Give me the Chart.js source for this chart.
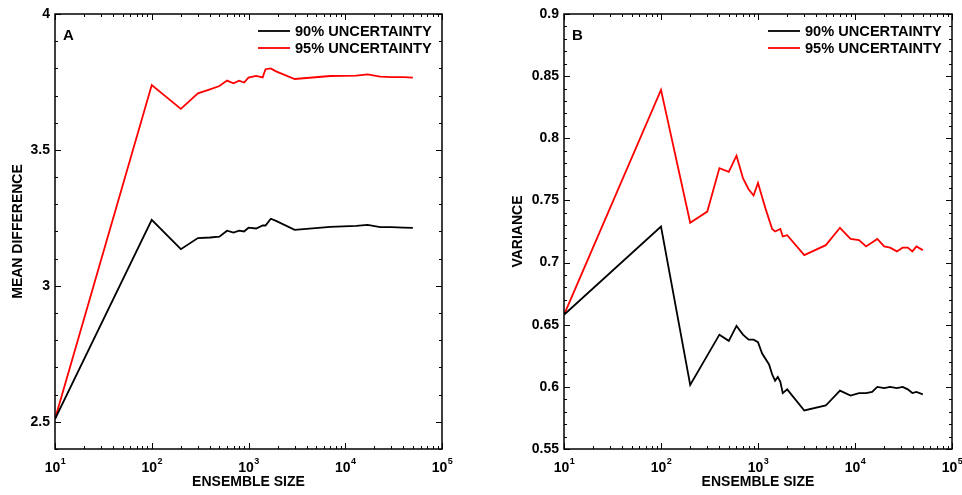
<!DOCTYPE html>
<html>
<head>
<meta charset="utf-8">
<script src="https://cdn.jsdelivr.net/npm/chart.js@4.4.1/dist/chart.umd.min.js"></script>
<style>
html, body { margin: 0; padding: 0; background: #fff; }
.panel { position: absolute; top: 0; width: 481px; height: 495px; }
</style>
</head>
<body>
<div class="panel" style="left:0"><canvas id="chartA"></canvas></div>
<div class="panel" style="left:481px"><canvas id="chartB"></canvas></div>
<script>
// panel A - mean difference
const sizesA = [10, 100, 200, 300, 400, 500, 600, 700, 800, 900,
  1000, 1200, 1400, 1500, 1700, 1900, 3000, 7000,
  13000, 17000, 23000, 30000, 40000, 50000];
const meanDiff90 = [2.51, 3.243, 3.135, 3.176, 3.178, 3.181, 3.203, 3.196, 3.203, 3.200,
  3.214, 3.211, 3.222, 3.222, 3.247, 3.240, 3.206, 3.217,
  3.221, 3.224, 3.216, 3.216, 3.214, 3.213];
const meanDiff95 = [2.51, 3.739, 3.651, 3.708, 3.723, 3.735, 3.755, 3.745, 3.755, 3.748,
  3.766, 3.772, 3.767, 3.797, 3.800, 3.790, 3.761, 3.772,
  3.773, 3.778, 3.770, 3.768, 3.768, 3.766];

// panel B - variance
const sizesB90 = [10, 100, 200, 400, 500, 600, 700, 800, 900, 1000,
  1100, 1300, 1400, 1500, 1600, 1700, 1800, 2000,
  3000, 5000, 7000, 9000, 11000, 13000, 15000, 17000,
  20000, 23000, 27000, 31000, 35000, 39000, 43000, 50000];
const variance90 = [0.658, 0.729, 0.6015, 0.642, 0.637, 0.649, 0.642, 0.638, 0.638, 0.636,
  0.627, 0.618, 0.610, 0.605, 0.608, 0.604, 0.595, 0.598,
  0.581, 0.585, 0.597, 0.593, 0.595, 0.595, 0.596, 0.600,
  0.599, 0.600, 0.599, 0.600, 0.598, 0.595, 0.596, 0.594];
const sizesB95 = [10, 100, 200, 300, 400, 500, 600, 700, 800, 900,
  1000, 1100, 1200, 1400, 1500, 1700, 1800, 2000,
  3000, 5000, 7000, 9000, 11000, 13000, 17000, 20000,
  23000, 27000, 31000, 35000, 39000, 43000, 50000];
const variance95 = [0.658, 0.839, 0.732, 0.741, 0.776, 0.773, 0.786, 0.768, 0.759, 0.754,
  0.764, 0.753, 0.743, 0.727, 0.725, 0.727, 0.721, 0.722,
  0.706, 0.714, 0.728, 0.719, 0.718, 0.713, 0.719, 0.713,
  0.712, 0.709, 0.712, 0.712, 0.709, 0.713, 0.710];

const seriesLabels = ['90% UNCERTAINTY', '95% UNCERTAINTY'];
const xDecades = [10, 100, 1000, 10000, 100000];
const yTicksA = [2.5, 3, 3.5, 4];
const yTicksB = [0.55, 0.6, 0.65, 0.7, 0.75, 0.8, 0.85, 0.9];

const FONT = "'Liberation Sans', Arial, Helvetica, sans-serif";
Chart.defaults.font.family = FONT;
Chart.defaults.color = '#000';

function pairs(xs, ys) {
  return xs.map((x, i) => ({ x: x, y: ys[i] }));
}

// box, inward ticks, superscript x labels, legend and panel letter
const framePlugin = {
  id: 'frame',
  afterDraw(chart, args, opts) {
    const ctx = chart.ctx;
    const a = chart.chartArea;
    const xs = chart.scales.x, ys = chart.scales.y;
    ctx.save();
    ctx.strokeStyle = '#000';
    ctx.lineWidth = 1;
    ctx.beginPath();
    // y ticks
    for (let v = opts.yMin; v <= opts.yMax + 1e-9; v += opts.yMinorStep) {
      const py = Math.round(ys.getPixelForValue(v)) + 0.5;
      const major = opts.yMajor.some(m => Math.abs(m - v) < 1e-6);
      const len = major ? 6 : 3;
      ctx.moveTo(a.left, py); ctx.lineTo(a.left + len, py);
      ctx.moveTo(a.right, py); ctx.lineTo(a.right - len, py);
    }
    // x ticks (log)
    for (let d = 10; d < 100000; d *= 10) {
      for (let k = 1; k <= 10; k++) {
        const px = Math.round(xs.getPixelForValue(d * k)) + 0.5;
        const len = (k === 1 || k === 10) ? 6 : 3;
        ctx.moveTo(px, a.bottom); ctx.lineTo(px, a.bottom - len);
        ctx.moveTo(px, a.top); ctx.lineTo(px, a.top + len);
      }
    }
    ctx.stroke();
    // box
    ctx.lineWidth = 1.5;
    ctx.strokeRect(a.left, a.top, a.right - a.left, a.bottom - a.top);

    // superscript decade labels
    ctx.fillStyle = '#000';
    ctx.textBaseline = 'alphabetic';
    xDecades.forEach(v => {
      const px = xs.getPixelForValue(v);
      const exp = String(Math.round(Math.log10(v)));
      ctx.font = 'bold 14px ' + FONT;
      const w1 = ctx.measureText('10').width;
      ctx.font = 'bold 9px ' + FONT;
      const w2 = ctx.measureText(exp).width;
      const x0 = px - (w1 + w2) / 2;
      ctx.font = 'bold 14px ' + FONT;
      ctx.textAlign = 'left';
      ctx.fillText('10', x0, a.bottom + 23);
      ctx.font = 'bold 9px ' + FONT;
      ctx.fillText(exp, x0 + w1 + 0.5, a.bottom + 15);
    });

    // legend
    ctx.textBaseline = 'middle';
    ctx.textAlign = 'left';
    ctx.font = 'bold 14.6px ' + FONT;
    chart.data.datasets.forEach((ds, i) => {
      const ly = a.top + 17 + i * 17;
      ctx.strokeStyle = ds.borderColor;
      ctx.lineWidth = 1.8;
      ctx.beginPath();
      ctx.moveTo(a.right - 184, ly);
      ctx.lineTo(a.right - 152, ly);
      ctx.stroke();
      ctx.fillText(ds.label, a.right - 147, ly + 1);
    });

    // panel letter
    ctx.font = 'bold 15px ' + FONT;
    ctx.fillText(opts.letter, a.left + 8, a.top + 22);
    ctx.restore();
  }
};

function makeChart(id, datasets, yCfg) {
  return new Chart(document.getElementById(id), {
    type: 'line',
    data: { datasets: datasets },
    plugins: [framePlugin],
    options: {
      responsive: true,
      maintainAspectRatio: false,
      animation: false,
      layout: { padding: yCfg.padding },
      plugins: {
        legend: { display: false },
        tooltip: { enabled: false },
        frame: {
          letter: yCfg.letter,
          yMin: yCfg.min, yMax: yCfg.max,
          yMinorStep: yCfg.minorStep, yMajor: yCfg.ticks
        }
      },
      elements: {
        point: { radius: 0 },
        line: { borderWidth: 1.8, tension: 0 }
      },
      scales: {
        x: {
          type: 'logarithmic',
          min: 10, max: 100000,
          grid: { display: false, drawTicks: false },
          border: { display: false },
          ticks: { display: false },
          title: {
            display: true, text: 'ENSEMBLE SIZE',
            font: { size: 14, weight: 'bold' }, padding: { top: 2, bottom: 4 }
          },
          afterFit(scale) { scale.height = 46; }
        },
        y: {
          type: 'linear',
          min: yCfg.min, max: yCfg.max,
          grid: { display: false, drawTicks: false },
          border: { display: false },
          afterBuildTicks(scale) { scale.ticks = yCfg.ticks.map(v => ({ value: v })); },
          ticks: {
            padding: 5,
            font: { size: 14, weight: 'bold' },
            callback: v => String(Math.round(v * 100) / 100)
          },
          title: {
            display: true, text: yCfg.title,
            font: { size: 14, weight: 'bold' }, padding: { top: 4, bottom: 4 }
          },
          afterFit(scale) { scale.width = yCfg.axisWidth; }
        }
      }
    }
  });
}

makeChart('chartA', [
  { label: seriesLabels[0], data: pairs(sizesA, meanDiff90), borderColor: '#000000' },
  { label: seriesLabels[1], data: pairs(sizesA, meanDiff95), borderColor: '#ff0000' }
], {
  title: 'MEAN DIFFERENCE', letter: 'A', min: 2.4, max: 4, minorStep: 0.1,
  ticks: yTicksA, axisWidth: 49, padding: { left: 6, right: 39, top: 14, bottom: 0 }
});

makeChart('chartB', [
  { label: seriesLabels[0], data: pairs(sizesB90, variance90), borderColor: '#000000' },
  { label: seriesLabels[1], data: pairs(sizesB95, variance95), borderColor: '#ff0000' }
], {
  title: 'VARIANCE', letter: 'B', min: 0.55, max: 0.9, minorStep: 0.01,
  ticks: yTicksB, axisWidth: 58, padding: { left: 25, right: 10, top: 14, bottom: 0 }
});
</script>
</body>
</html>
